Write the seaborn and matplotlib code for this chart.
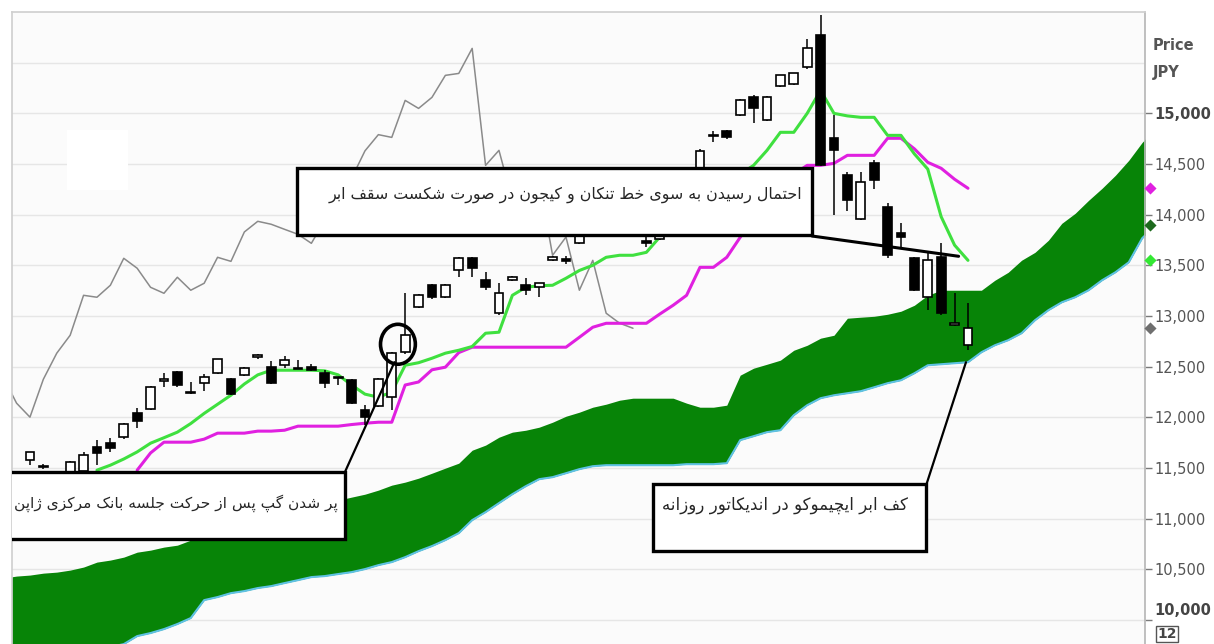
import numpy as np
import pandas as pd
import matplotlib
matplotlib.use("Agg")
import matplotlib.pyplot as plt
import matplotlib.transforms as mtransforms
from matplotlib.patches import Rectangle, Ellipse
import seaborn as sns

sns.set_theme(style="white")
plt.rcParams['font.family'] = ['DejaVu Sans']

# daily candles (bar index 0..70), JPY
opens = [11578, 11510, 11400, 11450, 11470, 11707, 11746, 11805, 12042, 12081,
         12360, 12446, 12239, 12338, 12436, 12377, 12417, 12594, 12496, 12515,
         12480, 12496, 12436, 12392, 12367, 12072, 12111, 12200, 12650, 13087,
         13304, 13186, 13452, 13570, 13353, 13028, 13353, 13304, 13284, 13550,
         13560, 13718, 13830, 13950, 13900, 13860, 13740, 13760, 13950, 14190,
         14360, 14775, 14823, 14980, 15158, 14931, 15266, 15286, 15454, 15769,
         14753, 14389, 13955, 14507, 14073, 13820, 13570, 13186, 13580, 12915,
         12712]
highs = [11660, 11545, 11470, 11570, 11660, 11776, 11796, 11950, 12091, 12310,
         12436, 12460, 12348, 12427, 12580, 12390, 12495, 12630, 12555, 12604,
         12565, 12525, 12466, 12402, 12380, 12121, 12390, 12650, 13225, 13215,
         13320, 13315, 13580, 13580, 13432, 13324, 13400, 13373, 13330, 13590,
         13590, 13870, 13980, 13990, 13940, 13900, 13790, 13980, 14220, 14380,
         14650, 14830, 14840, 15140, 15177, 15170, 15380, 15400, 15730, 15966,
         14980, 14418, 14418, 14537, 14113, 13915, 13580, 13620, 13718, 13225,
         13127]
lows = [11530, 11490, 11380, 11420, 11450, 11530, 11657, 11790, 11894, 12070,
        12298, 12300, 12230, 12259, 12430, 12220, 12410, 12580, 12330, 12486,
        12475, 12460, 12289, 12318, 12135, 11924, 12100, 12072, 12630, 13080,
        13170, 13180, 13383, 13383, 13255, 13008, 13345, 13205, 13186, 13540,
        13510, 13710, 13800, 13880, 13830, 13780, 13680, 13750, 13930, 14170,
        14340, 14720, 14750, 14970, 14901, 14920, 15260, 15280, 15434, 14480,
        13994, 14034, 13950, 14250, 13570, 13669, 13245, 13058, 13010, 12905,
        12663]
closes = [11657, 11525, 11450, 11560, 11630, 11650, 11697, 11933, 11963, 12298,
          12375, 12318, 12245, 12397, 12574, 12229, 12486, 12614, 12338, 12565,
          12490, 12466, 12338, 12400, 12141, 12003, 12377, 12634, 12811, 13205,
          13186, 13304, 13570, 13472, 13284, 13225, 13383, 13255, 13324, 13580,
          13540, 13830, 13935, 13906, 13856, 13807, 13718, 13945, 14191, 14359,
          14630, 14790, 14763, 15128, 15049, 15158, 15375, 15394, 15641, 14487,
          14635, 14142, 14320, 14339, 13600, 13780, 13255, 13550, 13028, 12930,
          12880]

# conversion line (tenkan-sen) from bar 5, base line (kijun-sen) from bar 8
tenkan_start = 5
tenkan = [11480, 11529, 11590, 11660, 11746, 11800, 11855, 11940, 12040, 12130,
          12220, 12330, 12420, 12466, 12466, 12466, 12466, 12460, 12420, 12320,
          12230, 12200, 12250, 12515, 12540, 12584, 12634, 12663, 12700, 12831,
          12841, 13205, 13284, 13300, 13304, 13373, 13450, 13501, 13580, 13600,
          13600, 13629, 13780, 13900, 14000, 14100, 14200, 14300, 14400, 14487,
          14635, 14813, 14813, 15000, 15227, 15000, 14975, 14961, 14961, 14783,
          14783, 14600, 14450, 13980, 13700, 13550]
kijun_start = 8
kijun = [11480, 11650, 11756, 11756, 11756, 11786, 11845, 11845, 11845, 11865,
         11865, 11874, 11914, 11914, 11914, 11914, 11930, 11943, 11953, 11953,
         12320, 12350, 12470, 12496, 12640, 12693, 12693, 12693, 12693, 12693,
         12693, 12693, 12693, 12791, 12890, 12929, 12929, 12929, 12929, 13020,
         13107, 13205, 13481, 13481, 13580, 13777, 13950, 14100, 14250, 14400,
         14487, 14487, 14507, 14586, 14586, 14586, 14754, 14754, 14650, 14517,
         14458, 14350, 14261]

# lagging span = close plotted 25 bars back
chikou_shift = 25

# kumo (cloud) edges, from bar -2 to bar 84
cloud_start = -2
cloud_top = [10415, 10435, 10445, 10464, 10474, 10494, 10524, 10573, 10593, 10622,
             10671, 10691, 10721, 10740, 10790, 10819, 10849, 10879, 10908, 10948,
             10987, 11036, 11086, 11115, 11155, 11184, 11214, 11243, 11283, 11332,
             11362, 11401, 11450, 11500, 11549, 11677, 11727, 11805, 11855, 11874,
             11904, 11953, 12012, 12052, 12101, 12131, 12170, 12190, 12190, 12190,
             12190, 12141, 12101, 12101, 12121, 12417, 12486, 12525, 12565, 12663,
             12712, 12782, 12811, 12979, 12989, 12998, 13018, 13048, 13107, 13206,
             13255, 13255, 13255, 13255, 13353, 13432, 13551, 13629, 13748, 13915,
             14014, 14142, 14260, 14389, 14537, 14714, 14852]
cloud_bottom = [9528, 9557, 9587, 9607, 9626, 9656, 9685, 9705, 9735, 9764,
                9843, 9873, 9912, 9962, 10021, 10198, 10228, 10267, 10287, 10317,
                10336, 10366, 10395, 10425, 10435, 10455, 10474, 10504, 10543, 10573,
                10622, 10681, 10731, 10790, 10859, 10987, 11066, 11155, 11243, 11322,
                11391, 11411, 11450, 11490, 11519, 11529, 11529, 11529, 11529, 11529,
                11529, 11539, 11539, 11539, 11549, 11776, 11815, 11855, 11874, 12022,
                12121, 12190, 12219, 12239, 12259, 12298, 12338, 12367, 12436, 12515,
                12525, 12535, 12545, 12643, 12712, 12762, 12831, 12959, 13058, 13136,
                13186, 13255, 13353, 13432, 13531, 13768, 13896]

price_ticks = list(range(10000, 15001, 500))
grid_levels = list(range(10000, 15501, 500))

note_gap = "پر شدن گپ پس از حرکت جلسه بانک مرکزی ژاپن"
note_break = "احتمال رسیدن به سوی خط تنکان و کیجون در صورت شکست سقف ابر"
note_floor = "کف ابر ایچیموکو در اندیکاتور روزانه"

# simple Persian shaping (matplotlib has no complex text layout)
FORMS = {
    'ا': ('\uFE8D', '\uFE8E', None, None), 'آ': ('\uFE81', '\uFE82', None, None),
    'ب': ('\uFE8F', '\uFE90', '\uFE91', '\uFE92'), 'پ': ('\uFB56', '\uFB57', '\uFB58', '\uFB59'),
    'ت': ('\uFE95', '\uFE96', '\uFE97', '\uFE98'), 'ج': ('\uFE9D', '\uFE9E', '\uFE9F', '\uFEA0'),
    'چ': ('\uFB7A', '\uFB7B', '\uFB7C', '\uFB7D'), 'ح': ('\uFEA1', '\uFEA2', '\uFEA3', '\uFEA4'),
    'خ': ('\uFEA5', '\uFEA6', '\uFEA7', '\uFEA8'), 'د': ('\uFEA9', '\uFEAA', None, None),
    'ر': ('\uFEAD', '\uFEAE', None, None), 'ز': ('\uFEAF', '\uFEB0', None, None),
    'ژ': ('\uFB8A', '\uFB8B', None, None), 'س': ('\uFEB1', '\uFEB2', '\uFEB3', '\uFEB4'),
    'ش': ('\uFEB5', '\uFEB6', '\uFEB7', '\uFEB8'), 'ص': ('\uFEB9', '\uFEBA', '\uFEBB', '\uFEBC'),
    'ط': ('\uFEC1', '\uFEC2', '\uFEC3', '\uFEC4'), 'ف': ('\uFED1', '\uFED2', '\uFED3', '\uFED4'),
    'ق': ('\uFED5', '\uFED6', '\uFED7', '\uFED8'), 'ک': ('\uFB8E', '\uFB8F', '\uFB90', '\uFB91'),
    'گ': ('\uFB92', '\uFB93', '\uFB94', '\uFB95'), 'ل': ('\uFEDD', '\uFEDE', '\uFEDF', '\uFEE0'),
    'م': ('\uFEE1', '\uFEE2', '\uFEE3', '\uFEE4'), 'ن': ('\uFEE5', '\uFEE6', '\uFEE7', '\uFEE8'),
    'و': ('\uFEED', '\uFEEE', None, None), 'ه': ('\uFEE9', '\uFEEA', '\uFEEB', '\uFEEC'),
    'ی': ('\uFBFC', '\uFBFD', '\uFBFE', '\uFBFF'),
}


def rtl(text):
    out = []
    for k, ch in enumerate(text):
        f = FORMS.get(ch)
        if f is None:
            out.append(ch)
            continue
        prev = text[k - 1] if k > 0 else ''
        nxt = text[k + 1] if k + 1 < len(text) else ''
        joins_prev = prev in FORMS and FORMS[prev][2] is not None
        joins_next = f[2] is not None and nxt in FORMS
        if joins_prev and joins_next:
            out.append(f[3])
        elif joins_prev:
            out.append(f[1])
        elif joins_next:
            out.append(f[2])
        else:
            out.append(f[0])
    return ''.join(reversed(out))


df = pd.DataFrame({'open': opens, 'high': highs, 'low': lows, 'close': closes})
df['bar'] = np.arange(len(df))
cloud = pd.DataFrame({'bar': np.arange(cloud_start, cloud_start + len(cloud_top)),
                      'top': cloud_top, 'bottom': cloud_bottom})

fig = plt.figure(figsize=(12.14, 6.44), dpi=100)
ax = fig.add_axes([12 / 1214, 0, 1133 / 1214, 632 / 644])
ax.set_facecolor('#fbfbfb')
ax.set_xlim(-1.34, 83.21)
ax.set_ylim(9765, 16000)

for lv in grid_levels:
    ax.axhline(lv, color='#e6e6e6', lw=1.0, zorder=0.5)

# white patch top-left
ax.add_patch(Rectangle((67 / 1214, 1 - 190 / 644), 61 / 1214, 60 / 644,
                       transform=fig.transFigure, facecolor='white', edgecolor='none', zorder=0.8))

# cloud
ax.fill_between(cloud['bar'], cloud['bottom'], cloud['top'], color='#078407', lw=0, zorder=1)
sns.lineplot(data=cloud, x='bar', y='bottom', color='#5fc2e4', lw=1.5, ax=ax, zorder=1.5)

# lagging span: closes from bar 23 on, moved back
chikou = df.iloc[23:].copy()
chikou['bar'] = chikou['bar'] - chikou_shift
sns.lineplot(data=chikou, x='bar', y='close', color='#8a8a8a', lw=1.1, ax=ax, zorder=2)

sns.lineplot(x=np.arange(kijun_start, kijun_start + len(kijun)), y=kijun,
             color='#e020e0', lw=2.2, ax=ax, zorder=3)
sns.lineplot(x=np.arange(tenkan_start, tenkan_start + len(tenkan)), y=tenkan,
             color='#3fe03f', lw=2.2, ax=ax, zorder=3.2)

# candles
up = df['close'] >= df['open']
ax.vlines(df['bar'], df['low'], df['high'], color='black', lw=1.1, zorder=4)
body_low = np.minimum(df['open'], df['close'])
body_h = np.maximum((df['close'] - df['open']).abs(), 12)
ax.bar(df['bar'], body_h, bottom=body_low, width=0.66,
       color=np.where(up, 'white', 'black'), edgecolor='black', linewidth=1.2, zorder=5)

# annotations
box_kw = dict(facecolor='white', edgecolor='black', linewidth=2.4, zorder=10)
ax.add_patch(Rectangle((19.93, 13800), 38.43, 660, **box_kw))
ax.text(57.6, 14200, rtl(note_break), ha='right', va='center', fontsize=11.4, zorder=11)
ax.plot([58.36, 69.3], [13790, 13590], color='black', lw=2.2, zorder=10)

ax.add_patch(Rectangle((-2.0, 10800), 25.5, 660, **box_kw))
ax.text(23.0, 11155, rtl(note_gap), ha='right', va='center', fontsize=11.1, zorder=11)
ax.plot([23.5, 27.2], [11460, 12545], color='black', lw=1.6, zorder=9)
ax.add_patch(Ellipse((27.46, 12722), 2.6, 394, facecolor='none', edgecolor='black', lw=2.6, zorder=9))

ax.add_patch(Rectangle((46.5, 10680), 20.4, 660, **box_kw))
ax.text(65.5, 11135, rtl(note_floor), ha='right', va='center', fontsize=12.0, zorder=11)
ax.plot([66.9, 69.85], [11340, 12545], color='black', lw=1.6, zorder=9)

# end-value markers on the price axis
last_marks = [(kijun[-1], '#e020e0'), (cloud_bottom[-1], '#1d6a1d'),
              (tenkan[-1], '#33e833'), (closes[-1], '#6f6f6f')]
for val, col in last_marks:
    ax.scatter([83.6], [val], marker='D', s=38, color=col, clip_on=False, zorder=20, linewidths=0)

# axes styling
for side in ['left', 'top']:
    ax.spines[side].set_color('#d0d0d0')
ax.spines['right'].set_color('#b8b8b8')
ax.spines['bottom'].set_visible(False)
ax.set_xticks([])
ax.yaxis.tick_right()
ax.set_yticks(price_ticks)
ax.set_yticklabels([f"{v:,}" for v in price_ticks])
ax.tick_params(axis='y', right=True, left=False, direction='out', length=5, width=1,
               color='#7a7a7a', pad=2, labelsize=10.5, labelcolor='#555555')
for lab in ax.get_yticklabels():
    if lab.get_text() in ('15,000', '10,000'):
        lab.set_fontweight('bold')
        lab.set_color('#444444')
    if lab.get_text() == '10,000':
        lab.set_transform(lab.get_transform() +
                          mtransforms.ScaledTranslation(0, 0.11, fig.dpi_scale_trans))
ax.set_xlabel('')
ax.set_ylabel('')

fig.text(1153 / 1214, 1 - 45 / 644, 'Price', fontsize=10.5, fontweight='bold', color='#555555', va='center')
fig.text(1153 / 1214, 1 - 72 / 644, 'JPY', fontsize=10.5, fontweight='bold', color='#555555', va='center')
fig.text(1157 / 1214, 1 - 634 / 644, '12', fontsize=10, fontweight='bold', color='#444444', va='center',
         bbox=dict(boxstyle='square,pad=0.1', facecolor='white', edgecolor='#555555', lw=1))

fig.savefig('out.png', dpi=100, facecolor='white')
